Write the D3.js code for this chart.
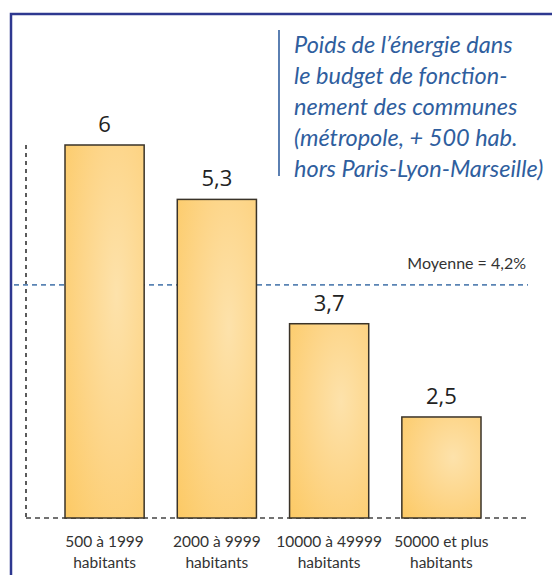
<!DOCTYPE html>
<html>
<head>
<meta charset="utf-8">
<script src="https://cdn.jsdelivr.net/npm/d3@7"></script>
<style>
  body { margin: 0; background: #fff; }
  svg { display: block; }
</style>
</head>
<body>
<div id="chart"></div>
<script>
// values
const categories = ["500 à 1999|habitants", "2000 à 9999|habitants", "10000 à 49999|habitants", "50000 et plus|habitants"];
const values = [6, 5.3, 3.7, 2.5];
const valueLabels = ["6", "5,3", "3,7", "2,5"];
const average = 4.2;
const averageLabel = "Moyenne = 4,2%";
const titleLines = ["Poids de l’énergie dans", "le budget de fonction-", "nement des communes", "(métropole,  + 500 hab.", "hors Paris-Lyon-Marseille)"];

const width = 552, height = 575;

const svg = d3.select("#chart").append("svg")
    .attr("width", width)
    .attr("height", height);

// frame
svg.append("path")
    .attr("d", `M11,${height} V14 H${width}`)
    .attr("fill", "none")
    .attr("stroke", "#2e3890")
    .attr("stroke-width", 2.5);

const x = d3.scaleBand()
    .domain(categories)
    .range([65, 481])
    .paddingInner(0.295)
    .paddingOuter(0);

// the axis doesn't start at zero on the original
const y = d3.scaleLinear()
    .domain([1.2, 6])
    .range([518, 145]);

const defs = svg.append("defs");
const grad = defs.append("radialGradient")
    .attr("id", "barfill")
    .attr("cx", 0.65).attr("cy", 0.4).attr("r", 0.9);
grad.append("stop").attr("offset", "0%").attr("stop-color", "#fde2ab");
grad.append("stop").attr("offset", "50%").attr("stop-color", "#fdd588");
grad.append("stop").attr("offset", "100%").attr("stop-color", "#fcc963");

// left dashed axis
svg.append("line")
    .attr("x1", 26).attr("x2", 26)
    .attr("y1", y(6)).attr("y2", y.range()[0])
    .attr("stroke", "#333")
    .attr("stroke-width", 1.6)
    .attr("stroke-dasharray", "4,4");

// baseline
svg.append("line")
    .attr("x1", 26).attr("x2", 530)
    .attr("y1", y.range()[0]).attr("y2", y.range()[0])
    .attr("stroke", "#444")
    .attr("stroke-width", 1.6)
    .attr("stroke-dasharray", "5,4");

// average line
svg.append("line")
    .attr("x1", 14).attr("x2", 528)
    .attr("y1", y(average)).attr("y2", y(average))
    .attr("stroke", "#5a84b4")
    .attr("stroke-width", 1.6)
    .attr("stroke-dasharray", "5,4");

svg.append("text")
    .attr("x", 526)
    .attr("y", y(average) - 16)
    .attr("text-anchor", "end")
    .attr("font-family", "Lato, 'Open Sans', sans-serif")
    .attr("font-size", 16)
    .attr("fill", "#333")
    .text(averageLabel);

// bars
svg.append("g")
    .selectAll("rect")
    .data(values)
    .join("rect")
    .attr("x", (d, i) => x(categories[i]))
    .attr("y", d => y(d))
    .attr("width", x.bandwidth())
    .attr("height", d => y.range()[0] - y(d))
    .attr("fill", "url(#barfill)")
    .attr("stroke", "#3a3328")
    .attr("stroke-width", 1.5);

// value labels
svg.append("g")
    .attr("font-family", "'Open Sans', sans-serif")
    .attr("font-size", 22)
    .attr("fill", "#222")
    .attr("text-anchor", "middle")
    .selectAll("text")
    .data(values)
    .join("text")
    .attr("x", (d, i) => x(categories[i]) + x.bandwidth() / 2)
    .attr("y", d => y(d) - 13)
    .text((d, i) => valueLabels[i]);

// category labels
const cat = svg.append("g")
    .attr("font-family", "Lato, 'Open Sans', sans-serif")
    .attr("font-size", 15.5)
    .attr("fill", "#333")
    .attr("text-anchor", "middle")
    .selectAll("text")
    .data(categories)
    .join("text")
    .attr("x", d => x(d) + x.bandwidth() / 2)
    .attr("y", 547);
cat.selectAll("tspan")
    .data(d => d.split("|"))
    .join("tspan")
    .attr("x", function() { return d3.select(this.parentNode).attr("x"); })
    .attr("dy", (d, i) => i === 0 ? 0 : 21)
    .text(d => d);

// title
svg.append("line")
    .attr("x1", 279).attr("x2", 279)
    .attr("y1", 30).attr("y2", 176)
    .attr("stroke", "#4a72aa")
    .attr("stroke-width", 1.8);

svg.append("g")
    .attr("font-family", "Lato, 'Open Sans', sans-serif")
    .attr("font-style", "italic")
    .attr("font-size", 23.5)
    .attr("fill", "#2f5e9e")
    .selectAll("text")
    .data(titleLines)
    .join("text")
    .attr("x", 294)
    .attr("y", (d, i) => 53 + i * 31)
    .text(d => d);
</script>
</body>
</html>
